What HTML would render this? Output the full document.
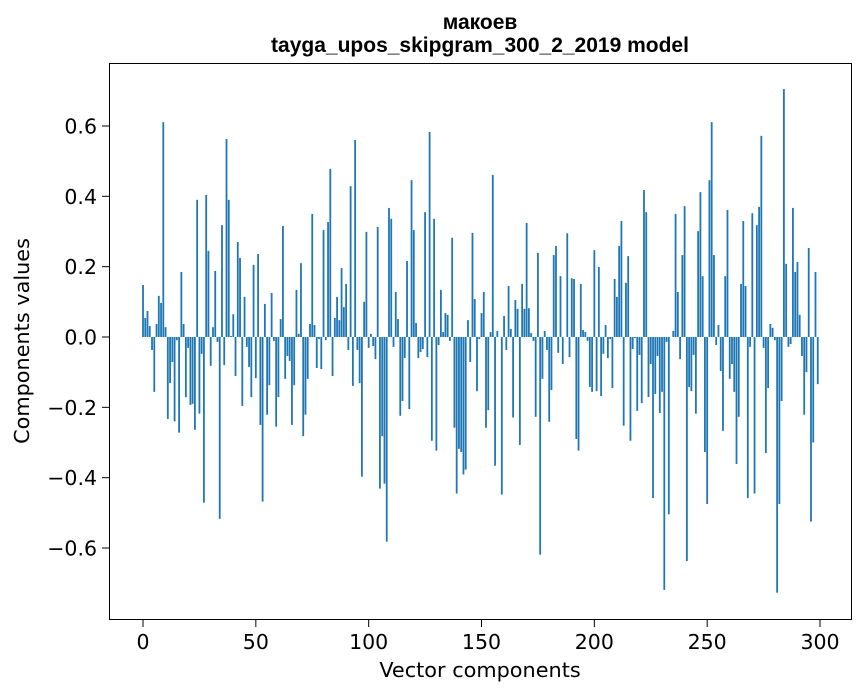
<!DOCTYPE html>
<html><head><meta charset="utf-8"><style>
body{margin:0;background:#fff;}
svg{display:block;font-family:"DejaVu Sans","Liberation Sans",sans-serif;}
</style></head><body>
<svg id="chart" width="867" height="696" viewBox="0 0 867 696" xmlns="http://www.w3.org/2000/svg">
<rect width="867" height="696" fill="#fff"/>
<text x="480" y="29" text-anchor="middle" font-size="21" font-weight="bold" fill="#000" font-family="Liberation Sans, sans-serif">макоев</text>
<text x="480" y="52" text-anchor="middle" font-size="21" font-weight="bold" fill="#000" font-family="Liberation Sans, sans-serif">tayga_upos_skipgram_300_2_2019 model</text>
<g id="bars"></g>
<rect x="109.5" y="63.5" width="742" height="556" fill="none" stroke="#000" stroke-width="1"/>
<g id="xticks"></g>
<g id="yticks"></g>
<text x="480" y="677" text-anchor="middle" font-size="20.8" fill="#000">Vector components</text>
<text transform="translate(29,341) rotate(-90)" text-anchor="middle" font-size="20.8" fill="#000">Components values</text>
</svg>
<script>
const values = [
0.148,0.054,0.074,0.031,-0.037,-0.156,0.037,0.117,0.097,0.611,
0.028,-0.233,-0.131,-0.071,-0.24,-0.009,-0.272,0.185,0.037,-0.171,
-0.031,-0.193,-0.19,-0.264,0.39,-0.218,-0.048,-0.471,0.404,0.245,
-0.082,0.028,0.188,-0.014,-0.517,0.318,-0.08,0.563,0.39,0.003,
0.065,-0.111,0.27,0.225,-0.196,0.114,-0.028,-0.085,-0.171,0.205,
-0.117,0.236,-0.25,-0.468,0.094,-0.221,-0.137,0.125,-0.011,-0.255,
-0.171,0.051,0.316,-0.119,-0.054,-0.068,-0.25,-0.137,0.134,0.009,
0.21,-0.282,-0.221,-0.119,0.037,0.35,0.034,-0.088,-0.006,-0.091,
0.304,-0.009,0.327,0.478,-0.111,0.054,0.114,0.048,0.196,0.085,
0.151,-0.037,0.429,-0.139,0.56,-0.037,-0.131,-0.397,0.1,0.299,
-0.031,0.009,-0.026,-0.063,0.313,-0.431,-0.282,-0.417,-0.582,0.367,
0.336,-0.028,0.128,0.051,-0.224,-0.182,-0.06,0.216,-0.205,0.446,
0.304,0.04,-0.06,-0.043,-0.034,0.355,-0.057,0.583,-0.295,0.336,
-0.323,-0.023,0.134,0.014,0.068,0.063,-0.011,0.282,-0.258,-0.445,
-0.318,-0.327,-0.391,-0.377,0.048,-0.071,0.296,0.108,-0.154,-0.006,
0.068,0.128,-0.258,-0.208,0.014,0.461,-0.366,0.017,0,-0.448,
0.06,-0.037,0.145,0.023,-0.229,0.105,0.08,-0.307,0.151,0.08,
0.324,0.082,0.011,-0.011,-0.227,0.239,-0.619,-0.119,0.017,-0.037,
-0.241,-0.151,0.233,0.259,-0.045,0.173,-0.077,0,0.295,-0.057,
0.167,0.165,-0.29,-0.323,0.151,0.02,0.014,-0.011,-0.142,-0.156,
0.247,-0.154,0.199,-0.168,-0.048,0.034,-0.06,-0.006,-0.145,0.165,
0.114,0.259,0.33,-0.252,0.154,0.23,-0.295,-0.034,-0.003,-0.21,
-0.051,-0.188,0.418,0.355,-0.171,-0.077,-0.458,-0.162,-0.054,-0.216,
-0.156,-0.719,-0.014,-0.504,0,0.017,0.35,0.128,-0.063,0.233,
0.372,-0.637,-0.142,-0.154,-0.051,-0.218,0.301,0.412,0.173,-0.327,
-0.475,0.446,0.611,0.233,-0.023,0.034,-0.097,-0.267,0.173,0.361,
-0.119,-0.077,-0.156,-0.361,-0.227,0.151,0.33,0.145,-0.458,-0.028,
0.352,-0.445,0.318,0.37,0.572,-0.031,-0.33,-0.145,0.037,0.026,
-0.009,-0.727,-0.475,-0.182,0.705,0.208,-0.028,-0.02,0.367,0.185,
0.213,0.063,-0.054,-0.221,-0.1,0.253,-0.525,-0.3,0.185,-0.134
];
const xTickLabels = ["0","50","100","150","200","250","300"];
const xTickValues = [0,50,100,150,200,250,300];
const yTickValues = [-0.6,-0.4,-0.2,0.0,0.2,0.4,0.6];
const yTickLabels = ["\u22120.6","\u22120.4","\u22120.2","0.0","0.2","0.4","0.6"];

const NS = "http://www.w3.org/2000/svg";
const xScale = v => 143 + v * 2.2567;
const yScale = v => 337 - v * 351.7;
const barsG = document.getElementById('bars');
values.forEach((v, i) => {
  const r = document.createElementNS(NS, 'rect');
  const cx = xScale(i);
  const y0 = yScale(0), y1 = yScale(v);
  r.setAttribute('x', cx - 0.9);
  r.setAttribute('width', 1.8);
  r.setAttribute('y', Math.min(y0, y1));
  r.setAttribute('height', Math.max(Math.abs(y1 - y0), 0.01));
  r.setAttribute('fill', '#1f77b4');
  
  
  barsG.appendChild(r);
});
const xg = document.getElementById('xticks');
xTickValues.forEach((t, i) => {
  const x = xScale(t);
  const l = document.createElementNS(NS, 'line');
  l.setAttribute('x1', x); l.setAttribute('x2', x);
  l.setAttribute('y1', 620); l.setAttribute('y2', 627);
  l.setAttribute('stroke', '#000');
  
  
  xg.appendChild(l);
  const tx = document.createElementNS(NS, 'text');
  tx.setAttribute('x', x); tx.setAttribute('y', 649);
  tx.setAttribute('text-anchor', 'middle');
  tx.setAttribute('font-size', '20.5');
  tx.textContent = xTickLabels[i];
  
  
  xg.appendChild(tx);
});
const yg = document.getElementById('yticks');
yTickValues.forEach((t, i) => {
  const y = yScale(t);
  const l = document.createElementNS(NS, 'line');
  l.setAttribute('x1', 102); l.setAttribute('x2', 109);
  l.setAttribute('y1', y); l.setAttribute('y2', y);
  l.setAttribute('stroke', '#000');
  
  
  yg.appendChild(l);
  const tx = document.createElementNS(NS, 'text');
  tx.setAttribute('x', 97); tx.setAttribute('y', y + 7.5);
  tx.setAttribute('text-anchor', 'end');
  tx.setAttribute('font-size', '20.5');
  tx.textContent = yTickLabels[i];
  
  
  yg.appendChild(tx);
});
</script>
</body></html>
